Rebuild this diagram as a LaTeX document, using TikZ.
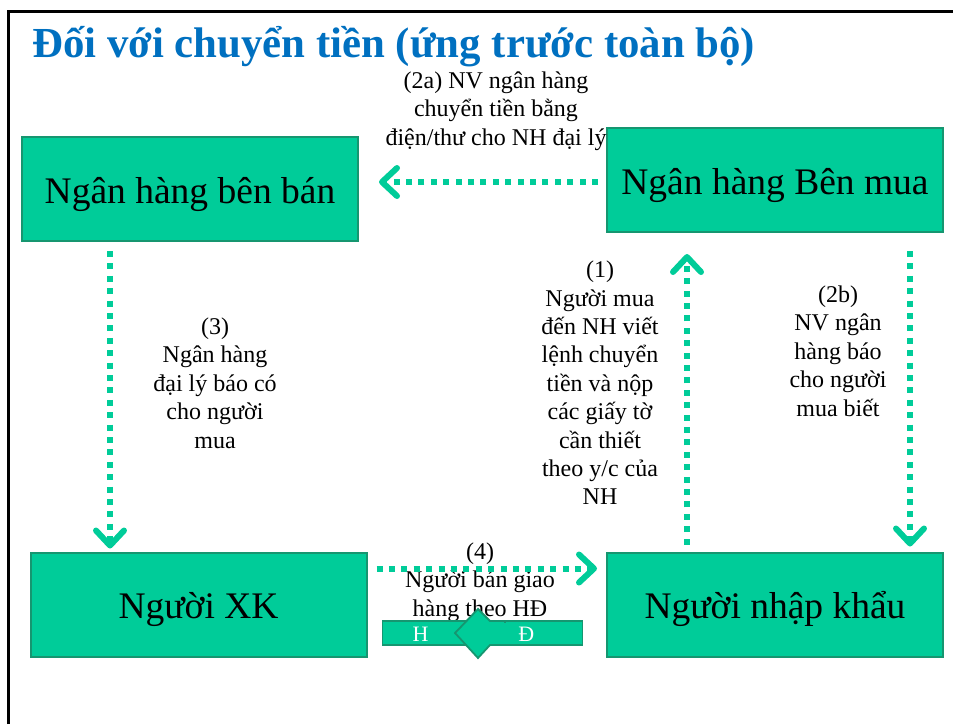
\documentclass[tikz,border=0pt]{standalone}
\usepackage{fontspec}
\setmainfont{Liberation Serif}
\usetikzlibrary{arrows.meta,calc}
\definecolor{boxfill}{RGB}{0,204,153}
\definecolor{boxline}{RGB}{22,150,112}
\definecolor{titleblue}{RGB}{0,112,192}
\tikzset{
  partybox/.style={draw=boxline, line width=2pt, fill=boxfill, minimum width=336pt,
    minimum height=104pt, inner sep=0pt, text height=36pt, text depth=8pt,
    font=\fontsize{37.5}{42}\selectfont},
  flow/.style={draw=boxfill, line width=6pt, dash pattern=on 6pt off 6.4pt,
    -{Straight Barb[length=15pt,width=28pt,round]}},
  steptext/.style={align=center, inner sep=0pt, font=\fontsize{24}{28.4}\selectfont},
  barletter/.style={text=white, inner sep=0pt, font=\fontsize{22}{24}\selectfont},
}
\begin{document}
\begin{tikzpicture}[x=1pt,y=-1pt]
\useasboundingbox (0,0) rectangle (953,724);
% slide frame
\draw[line width=3pt] (8,724) -- (8,11) -- (953,11);
% title
\node[anchor=west, inner sep=0pt, text=titleblue, font=\fontsize{42.8}{46}\bfseries\selectfont]
  (title) at (32,47) {Đối với chuyển tiền (ứng trước toàn bộ)};
% parties
\node[partybox] (A) at (190,189) {Ngân hàng bên bán};
\node[partybox] (B) at (775,180) {Ngân hàng Bên mua};
\node[partybox] (C) at (198.5,604.5) {Người XK};
\node[partybox] (D) at (775,604.5) {Người nhập khẩu};
% step labels
\node[steptext] (t2a) at (496,111) {(2a) NV ngân hàng\\chuyển tiền bằng\\điện/thư cho NH đại lý};
\node[steptext] (t1) at (600,383) {(1)\\Người mua\\đến NH viết\\lệnh chuyển\\tiền và nộp\\các giấy tờ\\cần thiết\\theo y/c của\\NH};
\node[steptext] (t3) at (215,383) {(3)\\Ngân hàng\\đại lý báo có\\cho người\\mua};
\node[steptext] (t2b) at (838,351) {(2b)\\NV ngân\\hàng báo\\cho người\\mua biết};
\node[steptext] (t4) at (480,582) {(4)\\Người bán giao\\hàng theo HĐ};
% flows
\draw[flow] ($(B.west)+(-8,2)$) -- ($(A.east)+(20,-7)$);
\draw[flow] ($(A.south)+(-80,9)$) -- ($(C.north)+(-88.5,-3)$);
\draw[flow] ($(C.east)+(9,-36)$) -- ($(D.west)+(-9,-36)$);
\draw[flow] ($(D.north)+(-88,-7)$) -- ($(B.south)+(-88,21)$);
\draw[flow] ($(B.south)+(135,18)$) -- ($(D.north)+(135,-5)$);
% goods / contract bar with block arrow
\node[draw=boxline, line width=1.8pt, fill=boxfill, minimum width=200pt, minimum height=24pt,
  inner sep=0pt] (bar) at (482.5,633) {};
\draw[boxline, line width=1.8pt, fill=boxfill, line join=miter]
  (455,633) -- (478,609) -- (490,621) -- (505,621) -- (505,645) -- (490,645) -- (478,658) -- cycle;
\fill[boxfill] (489,622.5) rectangle (507,643.5);
\node[barletter] (hh) at ($(bar.west)+(39,1)$) {H};
\node[barletter] (dd) at ($(bar.east)+(-57,1)$) {Đ};
\end{tikzpicture}
\end{document}
